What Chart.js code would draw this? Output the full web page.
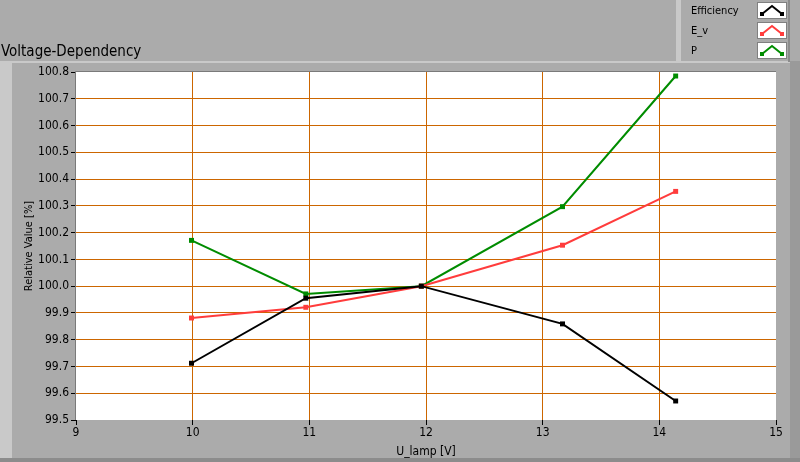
<!DOCTYPE html>
<html>
<head>
<meta charset="utf-8">
<script src="https://cdn.jsdelivr.net/npm/chart.js@4"></script>
<style>
  html, body { margin: 0; padding: 0; background: #ababab; }
  #wrap { width: 800px; height: 462px; }
</style>
</head>
<body>
<div id="wrap"><canvas id="voltage-chart" width="800" height="462"></canvas></div>
<script>
// values
let u_lamp = [9.99, 10.97, 11.96, 13.17, 14.14];
let efficiency = [99.712, 99.955, 100.0, 99.859, 99.571];
let e_v = [99.881, 99.921, 100.0, 100.153, 100.354];
let power = [100.171, 99.971, 100.0, 100.297, 100.785];

let series_names = ['Efficiency', 'E_v', 'P'];
let series_colors = ['rgb(0,0,0)', 'rgb(255,60,60)', 'rgb(0,140,0)'];

let font_family = '"DejaVu Sans Condensed", "DejaVu Sans", sans-serif';

function to_points(ys) {
    return ys.map((y, i) => ({x: u_lamp[i], y: y}));
}

// grey LabVIEW style frame, title and legend
let frame_plugin = {
    id: 'frame',
    beforeDraw(chart) {
        let c = chart.ctx;
        let area = chart.chartArea;
        c.save();
        c.fillStyle = '#ababab';
        c.fillRect(0, 0, 800, 462);

        // panel edges
        c.fillStyle = '#c9c9c9';
        c.fillRect(0, 61, 790, 2);
        c.fillRect(0, 61, 12, 397);
        c.fillStyle = '#9a9a9a';
        c.fillRect(790, 61, 10, 401);
        c.fillStyle = '#8c8c8c';
        c.fillRect(0, 458, 800, 4);

        // title
        c.fillStyle = '#000';
        c.font = '15px ' + font_family;
        c.textBaseline = 'alphabetic';
        c.textAlign = 'left';
        c.fillText('Voltage-Dependency', 1, 56);

        // plot background
        c.fillStyle = '#ffffff';
        c.fillRect(area.left, area.top, area.right - area.left, area.bottom - area.top);

        // legend box
        c.fillStyle = '#ababab';
        c.fillRect(676, 0, 114, 61);
        c.fillStyle = '#c9c9c9';
        c.fillRect(676, 0, 5, 61);
        c.fillStyle = '#8c8c8c';
        c.fillRect(788, 0, 2, 62);

        c.font = '11px ' + font_family;
        c.textBaseline = 'middle';
        let rows = [11, 31, 51];
        chart.data.datasets.forEach((ds, i) => {
            let cy = rows[i];
            c.fillStyle = '#000';
            c.fillText(ds.label, 691, cy);
            let bx = 757, by = cy - 9, bw = 30, bh = 17;
            c.fillStyle = '#ffffff';
            c.fillRect(bx, by, bw, bh);
            c.strokeStyle = '#808080';
            c.lineWidth = 1;
            c.strokeRect(bx + 0.5, by + 0.5, bw - 1, bh - 1);
            c.strokeStyle = ds.borderColor;
            c.lineWidth = 2;
            c.beginPath();
            c.moveTo(bx + 5, by + bh - 5);
            c.lineTo(bx + bw / 2, by + 4);
            c.lineTo(bx + bw - 5, by + bh - 5);
            c.stroke();
            c.fillStyle = ds.borderColor;
            c.fillRect(bx + 3, by + bh - 7, 4, 4);
            c.fillRect(bx + bw - 7, by + bh - 7, 4, 4);
        });
        c.restore();
    },
    afterDatasetsDraw(chart) {
        let c = chart.ctx;
        let area = chart.chartArea;
        c.save();
        c.strokeStyle = '#7a7a7a';
        c.lineWidth = 1;
        c.beginPath();
        c.moveTo(area.left - 0.5, area.bottom);
        c.lineTo(area.left - 0.5, area.top - 0.5);
        c.lineTo(area.right, area.top - 0.5);
        c.stroke();
        c.restore();
    }
};

function edge_hidden(ctx) {
    let n = ctx.scale.ticks.length;
    if (ctx.index === 0 || ctx.index === n - 1) return 'rgba(0,0,0,0)';
    return 'rgb(204,102,0)';
}

let datasets = [efficiency, e_v, power].map((ys, i) => ({
    label: series_names[i],
    data: to_points(ys),
    borderColor: series_colors[i],
    backgroundColor: series_colors[i],
    borderWidth: 2,
    pointStyle: 'rect',
    pointRadius: 3.5,
    pointBorderWidth: 0,
    tension: 0,
}));

new Chart(document.getElementById('voltage-chart'), {
    type: 'line',
    data: {datasets: datasets},
    options: {
        responsive: false,
        animation: false,
        layout: {padding: {left: 0, top: 72, right: 24, bottom: 0}},
        plugins: {
            legend: {display: false},
            tooltip: {enabled: false},
        },
        scales: {
            x: {
                type: 'linear',
                min: 9,
                max: 15,
                ticks: {stepSize: 1, color: '#000', font: {family: font_family, size: 12}, padding: 1},
                grid: {color: edge_hidden, tickColor: '#000', tickLength: 5, lineWidth: 1},
                border: {display: false},
                title: {display: true, text: 'U_lamp [V]', color: '#000',
                        font: {family: font_family, size: 12}, padding: {top: 0, bottom: 3}},
                afterFit(scale) { scale.height = 42; },
            },
            y: {
                min: 99.5,
                max: 100.8,
                ticks: {stepSize: 0.1, color: '#000', font: {family: font_family, size: 12}, padding: 2,
                        callback: (v) => v.toFixed(1)},
                grid: {color: edge_hidden, tickColor: '#000', tickLength: 5, lineWidth: 1},
                border: {display: false},
                title: {display: true, text: 'Relative Value [%]', color: '#000',
                        font: {family: font_family, size: 11}, padding: {top: 23, bottom: 0}},
                afterFit(scale) { scale.width = 76; },
            },
        },
    },
    plugins: [frame_plugin],
});
</script>
</body>
</html>
